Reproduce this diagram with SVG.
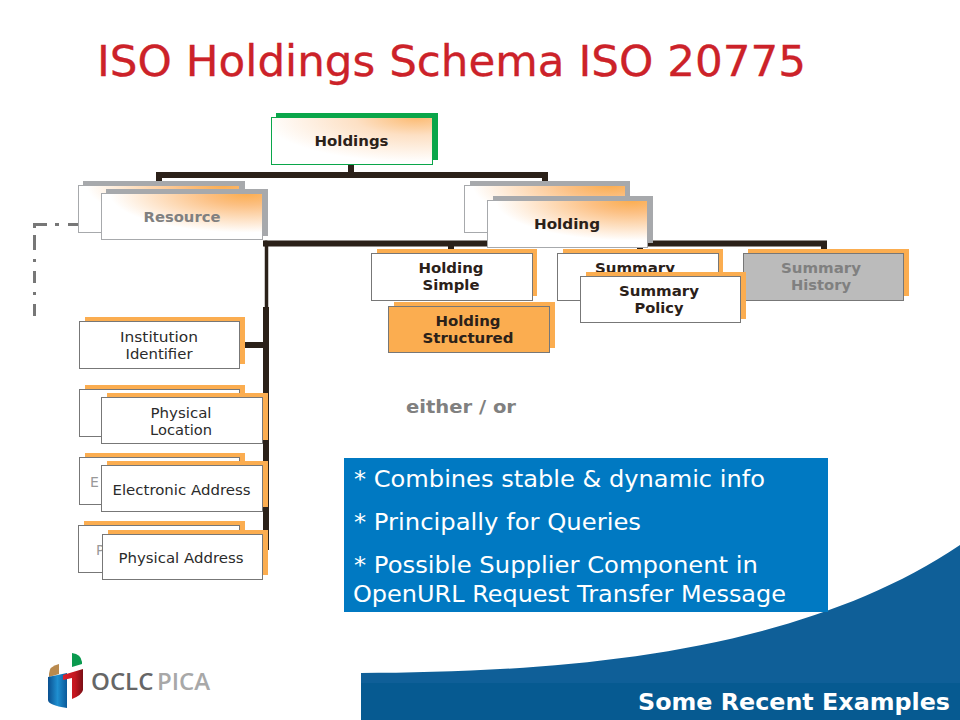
<svg xmlns="http://www.w3.org/2000/svg" width="960" height="720" viewBox="0 0 960 720">
<style>
text{font-family:"DejaVu Sans","Liberation Sans",sans-serif;text-anchor:middle}
.b{font-weight:bold;font-size:14px;fill:#2b2119}
.r{font-size:14px;fill:#2b2b2b}
.box{stroke:#777;stroke-width:1;fill:#fff}
.o{fill:#fbad50}
.s{fill:#a7a9ac}
.w{font-size:23px;fill:#fff;text-anchor:start}
.l{font-family:"Open Sans",sans-serif;font-size:24px;font-weight:600;text-anchor:start}
</style>
<defs>
<radialGradient id="gr" cx="0.9" cy="0" r="0.85"><stop offset="0" stop-color="#fbad50"/><stop offset="0.3" stop-color="#fcc083"/><stop offset="1" stop-color="#fff"/></radialGradient>
<radialGradient id="gp" cx="0.9" cy="0" r="0.95"><stop offset="0" stop-color="#fcbb73"/><stop offset="0.4" stop-color="#fde0c4"/><stop offset="1" stop-color="#fff"/></radialGradient>
<linearGradient id="lb" x1="0" x2="1" y1="0" y2="0"><stop offset="0" stop-color="#0a4f8f"/><stop offset="0.5" stop-color="#1f8fd0"/><stop offset="1" stop-color="#0a5a9a"/></linearGradient>
<linearGradient id="lr" x1="0" x2="1" y1="0" y2="0"><stop offset="0" stop-color="#d8222c"/><stop offset="0.6" stop-color="#c4161f"/><stop offset="1" stop-color="#7a0f16"/></linearGradient>
</defs>

<rect width="960" height="720" fill="#fff"/>

<g id="footer">
<path d="M361 720V673C540 672 790 660 960 545V720Z" fill="#0f5f98"/>
<rect x="361" y="683" width="599" height="37" fill="#065a91"/>
<text x="950" y="710" style="text-anchor:end" font-size="23" font-weight="bold" fill="#fff" textLength="312" lengthAdjust="spacingAndGlyphs">Some Recent Examples</text>
</g>

<text x="97" y="76" style="text-anchor:start" font-size="42" fill="#cc2229" stroke="#cc2229" stroke-width="0.3" textLength="709" lengthAdjust="spacingAndGlyphs">ISO Holdings Schema ISO 20775</text>

<g id="connectors" fill="none" stroke="#2b2119">
<path d="M351 164V175M159 181V175H545V181" stroke-width="6"/>
<path d="M263 243.500H827M451 243V249M640 243V249M824 243V249" stroke-width="6"/>
<path d="M266.500 243V308" stroke-width="3.500"/>
<path d="M266 307V550M245 345H266" stroke-width="6"/>
<circle cx="266" cy="243.500" r="3" fill="#2b2119" stroke="none"/>
<path d="M79 224.500H68M59 224.500H55M47 224.500H33M34.500 224V228M34.500 235V250M34.500 259V262M34.500 271V283M34.500 292V295M34.500 304V316" stroke="#777" stroke-width="3"/>
</g>

<g id="holdings">
<rect x="276" y="113" width="162" height="47" fill="#0aa64a"/>
<rect x="271.500" y="117.500" width="161" height="47" fill="url(#gp)" stroke="#0aa64a"/>
<text class="b" x="351.500" y="146" textLength="74" lengthAdjust="spacingAndGlyphs">Holdings</text>
</g>

<g id="resource-back">
<rect x="83" y="181" width="162" height="47" class="s"/>
<rect x="78.500" y="185.500" width="161" height="47" fill="url(#gr)" stroke="#a7a9ac"/>
</g>
<g id="resource">
<rect x="106" y="189" width="162" height="47" class="s"/>
<rect x="101.500" y="193.500" width="161" height="46" fill="url(#gr)" stroke="#a7a9ac"/>
<text class="b" x="182" y="222" textLength="77" lengthAdjust="spacingAndGlyphs" style="fill:#808080">Resource</text>
</g>

<g id="holding-back">
<rect x="470" y="181" width="160" height="47" class="s"/>
<rect x="464.500" y="185.500" width="161" height="47" fill="url(#gr)" stroke="#a7a9ac"/>
</g>
<g id="holding-simple">
<rect x="377" y="249" width="160" height="47" class="o"/>
<rect x="371.500" y="253.500" width="161" height="47" class="box"/>
<text class="b" x="451" y="273" textLength="65" lengthAdjust="spacingAndGlyphs">Holding</text>
<text class="b" x="451" y="290" textLength="57" lengthAdjust="spacingAndGlyphs">Simple</text>
</g>
<g id="summary-back">
<rect x="563" y="249" width="160" height="47" class="o"/>
<rect x="557.500" y="253.500" width="161" height="47" class="box"/>
<text class="b" x="635" y="273" textLength="80" lengthAdjust="spacingAndGlyphs">Summary</text>
</g>
<g id="holding">
<rect x="493" y="196" width="160" height="47" class="s"/>
<rect x="487.500" y="200.500" width="160" height="47" fill="url(#gr)" stroke="#a7a9ac"/>
<text class="b" x="567" y="229" textLength="66" lengthAdjust="spacingAndGlyphs">Holding</text>
</g>
<g id="holding-structured">
<rect x="394" y="302" width="161" height="46" class="o"/>
<rect x="388.500" y="306.500" width="161" height="46" class="box" style="fill:#fbad50"/>
<text class="b" x="468" y="326" textLength="65" lengthAdjust="spacingAndGlyphs">Holding</text>
<text class="b" x="468" y="343" textLength="91" lengthAdjust="spacingAndGlyphs">Structured</text>
</g>
<g id="summary-history">
<rect x="748" y="249" width="161" height="47" class="o"/>
<rect x="743.500" y="253.500" width="160" height="47" class="box" style="fill:#bbb"/>
<text class="b" x="821" y="273" textLength="80" lengthAdjust="spacingAndGlyphs" style="fill:#808080">Summary</text>
<text class="b" x="821" y="290" textLength="60" lengthAdjust="spacingAndGlyphs" style="fill:#808080">History</text>
</g>
<g id="summary-policy">
<rect x="586" y="272" width="160" height="47" class="o"/>
<rect x="580.500" y="276.500" width="160" height="46" class="box"/>
<text class="b" x="659" y="296" textLength="80" lengthAdjust="spacingAndGlyphs">Summary</text>
<text class="b" x="659" y="313" textLength="49" lengthAdjust="spacingAndGlyphs">Policy</text>
</g>

<g id="institution-identifier">
<rect x="85" y="317" width="160" height="47" class="o"/>
<rect x="79.500" y="321.500" width="160" height="47" class="box"/>
<text class="r" x="159" y="342" textLength="78" lengthAdjust="spacingAndGlyphs">Institution</text>
<text class="r" x="159" y="359" textLength="67" lengthAdjust="spacingAndGlyphs">Identifier</text>
</g>
<g id="physical-location-back">
<rect x="85" y="385" width="160" height="47" class="o"/>
<rect x="79.500" y="389.500" width="160" height="47" class="box"/>
</g>
<g id="physical-location">
<rect x="107" y="393" width="161" height="47" class="o"/>
<rect x="101.500" y="397.500" width="161" height="46" class="box"/>
<text class="r" x="181" y="418" textLength="61" lengthAdjust="spacingAndGlyphs">Physical</text>
<text class="r" x="181" y="435" textLength="62" lengthAdjust="spacingAndGlyphs">Location</text>
</g>
<g id="electronic-address-back">
<rect x="85" y="453" width="160" height="47" class="o"/>
<rect x="79.500" y="457.500" width="160" height="47" class="box"/>
<text class="r" x="90" y="487" style="fill:#999;text-anchor:start">E</text>
</g>
<g id="electronic-address">
<rect x="107" y="461" width="161" height="46" class="o"/>
<rect x="101.500" y="465.500" width="161" height="46" class="box"/>
<text class="r" x="181.500" y="495" textLength="138" lengthAdjust="spacingAndGlyphs">Electronic Address</text>
</g>
<g id="physical-address-back">
<rect x="84" y="521" width="161" height="47" class="o"/>
<rect x="78.500" y="525.500" width="161" height="47" class="box"/>
<text class="r" x="96" y="555" style="fill:#999;text-anchor:start">P</text>
</g>
<g id="physical-address">
<rect x="108" y="530" width="160" height="45" class="o"/>
<rect x="102.500" y="534.500" width="160" height="45" class="box"/>
<text class="r" x="181" y="563" textLength="125" lengthAdjust="spacingAndGlyphs">Physical Address</text>
</g>

<text x="461" y="413" font-size="18" font-weight="bold" fill="#808080" textLength="110" lengthAdjust="spacingAndGlyphs">either / or</text>

<g id="info">
<rect x="344" y="458" width="484" height="154" fill="#0079c2"/>
<text class="w" x="354" y="487" textLength="411" lengthAdjust="spacingAndGlyphs">* Combines stable &amp; dynamic info</text>
<text class="w" x="354" y="530" textLength="287" lengthAdjust="spacingAndGlyphs">* Principally for Queries</text>
<text class="w" x="354" y="573" textLength="404" lengthAdjust="spacingAndGlyphs">* Possible Supplier Component in</text>
<text class="w" x="353" y="602" textLength="433" lengthAdjust="spacingAndGlyphs">OpenURL Request Transfer Message</text>
</g>

<g id="logo">
<path d="M72 653Q81 654 82 662V664L72 667Z" fill="#0a9a4f"/>
<path d="M49 674Q49 666 59 664V674L49 677Z" fill="#b98a4e"/>
<path d="M48 677L67 673V708Q48 705 48 700Z" fill="url(#lb)"/>
<path d="M63 675L83 669V690Q82 695 72 699V678L63 680Z" fill="url(#lr)"/>
<text class="l" x="91" y="690" fill="#666">OCLC</text>
<text class="l" x="157" y="690" fill="#a8a8a8">PICA</text>
</g>
</svg>
